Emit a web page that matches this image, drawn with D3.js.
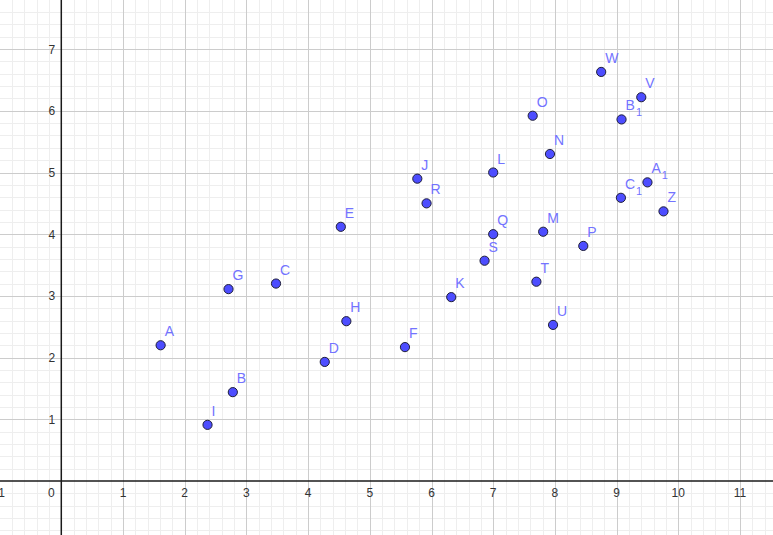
<!DOCTYPE html>
<html>
<head>
<meta charset="utf-8">
<script src="https://cdn.jsdelivr.net/npm/d3@7"></script>
<style>
  html, body { margin: 0; padding: 0; background: #fff; }
  svg { display: block; }
</style>
</head>
<body>
<svg id="chart" width="773" height="535"></svg>
<script>
// Point names (base letter + optional subscript)
const pointNames = ["A","B","C","D","E","F","G","H","I","J","K","L","M","N","O","P","Q","R","S","T","U","V","W","Z","A1","B1","C1"];
const xValues = [1.61, 2.78, 3.48, 4.27, 4.53, 5.57, 2.71, 4.62, 2.37, 5.77, 6.32, 7.0, 7.81, 7.92, 7.64, 8.46, 7.0, 5.92, 6.86, 7.70, 7.97, 9.40, 8.75, 9.76, 9.50, 9.08, 9.07];
const yValues = [2.20, 1.44, 3.20, 1.93, 4.12, 2.17, 3.11, 2.59, 0.91, 4.90, 2.98, 5.0, 4.04, 5.30, 5.92, 3.81, 4.0, 4.50, 3.57, 3.23, 2.53, 6.22, 6.63, 4.37, 4.84, 5.86, 4.59];
const xTicks = [-1, 0, 1, 2, 3, 4, 5, 6, 7, 8, 9, 10, 11];
const yTicks = [1, 2, 3, 4, 5, 6, 7];

const W = 773, H = 535;
const unit = 61.7;
const originX = 61.3, originY = 481;

const x = d3.scaleLinear().domain([-originX / unit, (W - originX) / unit]).range([0, W]);
const y = d3.scaleLinear().domain([-(H - originY) / unit, originY / unit]).range([H, 0]);

const svg = d3.select("#chart");

// minor grid
const minorX = d3.range(Math.ceil(x.domain()[0] * 5), Math.floor(x.domain()[1] * 5) + 1).map(v => v / 5);
const minorY = d3.range(Math.ceil(y.domain()[0] * 5), Math.floor(y.domain()[1] * 5) + 1).map(v => v / 5);

svg.append("g").selectAll("line").data(minorX.filter(v => Math.abs(v - Math.round(v)) > 1e-9))
  .join("line")
  .attr("x1", d => Math.round(x(d)) + 0.5).attr("x2", d => Math.round(x(d)) + 0.5)
  .attr("y1", 0).attr("y2", H)
  .attr("stroke", "#eeeeee").attr("stroke-width", 1);
svg.append("g").selectAll("line").data(minorY.filter(v => Math.abs(v - Math.round(v)) > 1e-9))
  .join("line")
  .attr("y1", d => Math.round(y(d)) + 0.5).attr("y2", d => Math.round(y(d)) + 0.5)
  .attr("x1", 0).attr("x2", W)
  .attr("stroke", "#eeeeee").attr("stroke-width", 1);

// major grid
const majorX = d3.range(Math.ceil(x.domain()[0]), Math.floor(x.domain()[1]) + 1).filter(v => v !== 0);
const majorY = d3.range(Math.ceil(y.domain()[0]), Math.floor(y.domain()[1]) + 1).filter(v => v !== 0);
svg.append("g").selectAll("line").data(majorX).join("line")
  .attr("x1", d => Math.round(x(d)) + 0.5).attr("x2", d => Math.round(x(d)) + 0.5)
  .attr("y1", 0).attr("y2", H)
  .attr("stroke", "#cccccc").attr("stroke-width", 1);
svg.append("g").selectAll("line").data(majorY).join("line")
  .attr("y1", d => Math.round(y(d)) + 0.5).attr("y2", d => Math.round(y(d)) + 0.5)
  .attr("x1", 0).attr("x2", W)
  .attr("stroke", "#cccccc").attr("stroke-width", 1);

// axes
svg.append("line").attr("x1", 0).attr("x2", W).attr("y1", y(0)).attr("y2", y(0))
  .attr("stroke", "#1a1a1a").attr("stroke-width", 1.5);
svg.append("line").attr("y1", 0).attr("y2", H).attr("x1", x(0)).attr("x2", x(0))
  .attr("stroke", "#1a1a1a").attr("stroke-width", 1.5);

// tick labels
const tickFont = "Arial, 'Liberation Sans', sans-serif";
svg.append("g").selectAll("text").data(xTicks).join("text")
  .attr("x", d => d === 0 ? x(0) - 10 : x(d))
  .attr("y", y(0) + 16)
  .attr("text-anchor", "middle")
  .attr("font-family", tickFont).attr("font-size", 12).attr("fill", "#333")
  .text(d => d);
svg.append("g").selectAll("text").data(yTicks).join("text")
  .attr("x", x(0) - 6)
  .attr("y", d => y(d) + 4.5)
  .attr("text-anchor", "end")
  .attr("font-family", tickFont).attr("font-size", 12).attr("fill", "#333")
  .text(d => d);

// points
const pts = pointNames.map((n, i) => ({ name: n, x: xValues[i], y: yValues[i] }));
svg.append("g").selectAll("circle").data(pts).join("circle")
  .attr("cx", d => x(d.x)).attr("cy", d => y(d.y)).attr("r", 4.6)
  .attr("fill", "#4d4dff").attr("stroke", "#1f1f3a").attr("stroke-width", 1);

// labels
const lbl = svg.append("g").selectAll("text").data(pts).join("text")
  .attr("x", d => x(d.x) + 4)
  .attr("y", d => y(d.y) - 9)
  .attr("font-family", tickFont).attr("font-size", 14).attr("fill", "#7373ff");
lbl.append("tspan").text(d => d.name[0]);
lbl.filter(d => d.name.length > 1).append("tspan")
  .attr("dy", 6).attr("dx", 1).attr("font-size", 11)
  .text(d => d.name.slice(1));
</script>
</body>
</html>
